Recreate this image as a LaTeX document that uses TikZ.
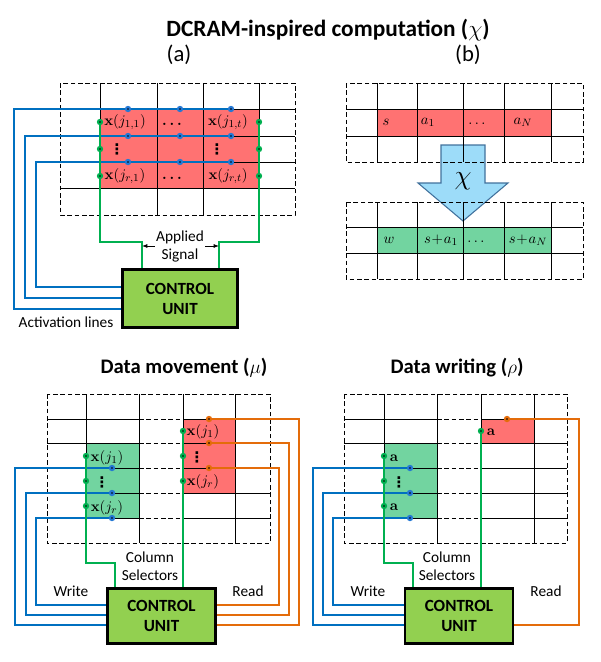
\documentclass[tikz,border=0pt]{standalone}
\usepackage[no-math]{fontspec}
\setmainfont{Carlito}
\newfontfamily\dotsfont{DejaVu Sans}
\usepackage{amsmath,amssymb}
\usepackage{tikz}
\usetikzlibrary{calc,arrows.meta}
\tikzset{>=latex}
\pgfdeclarelayer{back}
\pgfdeclarelayer{wire}
\pgfsetlayers{back,wire,main}
\definecolor{cellred}{HTML}{FF7272}
\definecolor{cellgreen}{HTML}{72D4A0}
\definecolor{ctrlgreen}{HTML}{92D050}
\definecolor{wireblue}{HTML}{0070C0}
\definecolor{dotblue}{HTML}{2478D4}
\definecolor{wiregreen}{HTML}{00B050}
\definecolor{wireorange}{HTML}{E46C0A}
\definecolor{chifill}{HTML}{9DDCF9}
\definecolor{chiline}{HTML}{41719C}
\newcommand{\xj}[1]{\mathbf{x}(j_{#1})}
\newcommand{\vdt}{{\dotsfont\bfseries ⋮}}
\tikzset{
  cellline/.style={line width=0.75pt},
  dashbox/.style={line width=0.75pt, dash pattern=on 3.5pt off 2pt},
  midline/.style={line width=0.75pt, dash pattern=on 3.5pt off 2pt},
  ctrl/.style={draw, line width=1.8pt, fill=ctrlgreen, align=center, inner sep=0pt,
    font=\fontsize{12.8}{15}\selectfont\bfseries},
  lbl/.style={font=\fontsize{11.5}{13.5}\selectfont, inner sep=1pt, align=center},
  head/.style={font=\fontsize{15.5}{18}\selectfont\bfseries},
  mtext/.style={font=\fontsize{11}{13}\selectfont, inner sep=0pt},
  vtext/.style={font=\fontsize{11}{13}\selectfont, inner sep=0pt},
  wdot/.style={circle, fill=#1, inner sep=0pt, minimum size=4.8pt,
    path picture={\fill[black] (path picture bounding box.center) circle (0.6pt);}},
  bdot/.style={wdot=dotblue},
  gdot/.style={wdot=wiregreen},
  odot/.style={wdot=wireorange},
  bluewire/.style={draw=wireblue, line width=0.9pt},
  greenwire/.style={draw=wiregreen, line width=0.9pt},
  orangewire/.style={draw=wireorange, line width=0.9pt},
  chiarrow/.style={fill=chifill, draw=chiline, line width=0.8pt, line join=miter}
}
\begin{document}
\begin{tikzpicture}[x=0.75pt, y=-0.75pt]
\useasboundingbox (0,0) rectangle (601,662);

\node[font=\fontsize{17.5}{20}\selectfont\bfseries] (title) at (328,30) {DCRAM-inspired computation ($\chi$)};
\node[font=\fontsize{17}{19}\selectfont] (a-lbl) at (179,55) {(a)};
\node[font=\fontsize{17}{19}\selectfont] (b-lbl) at (468,55) {(b)};

% (a)
\begin{pgfonlayer}{back}
\fill[cellred] (100,109) rectangle (259,188);
\draw[dashbox] (60,83) rectangle (295,215);
\foreach \x in {100,157,203,259} \draw[cellline] (\x,83) -- (\x,215);
\foreach \y in {109,136,162,188} \draw[cellline] (60,\y) -- (295,\y);
\end{pgfonlayer}
\node[mtext] (a-x11) at (125,122) {$\xj{1,1}$};
\node[mtext] (a-d1) at (172,124) {$\boldsymbol{\ldots}$};
\node[mtext] (a-x1t) at (228,122) {$\xj{1,t}$};
\node[vtext] (a-v1) at (117,149) {\vdt};
\node[vtext] (a-v2) at (217,149) {\vdt};
\node[mtext] (a-xr1) at (125,176) {$\xj{r,1}$};
\node[mtext] (a-d2) at (172,178) {$\boldsymbol{\ldots}$};
\node[mtext] (a-xrt) at (228,176) {$\xj{r,t}$};
\foreach \y [count=\i] in {109,136,162}
  \foreach \x [count=\j] in {128,180,231}
    \node[bdot] (a-b\i\j) at (\x,\y) {};
\foreach \y [count=\i] in {122,149,176} {
  \node[gdot] (a-gl\i) at (100,\y) {};
  \node[gdot] (a-gr\i) at (259,\y) {};
}
\node[ctrl, minimum width=86.25pt, minimum height=43.5pt] (cua) at (180,298.5) {CONTROL\\UNIT};
\node[lbl] (a-sig) at (180,246) {Applied\\Signal};
\node[lbl] (a-act) at (66,322) {Activation lines};
\begin{pgfonlayer}{wire}
\foreach \i/\xx/\yy in {1/14/309,2/25/298,3/36/287} {
  \coordinate (a-k\i) at (\xx,\yy);
  \draw[bluewire] (a-b\i3.center) -| (a-k\i) -- (a-k\i -| cua.west);
}
\coordinate (a-sl) at (142,242);
\coordinate (a-sr) at (219,242);
\draw[greenwire] (a-gl1.center) |- (a-sl) -- (a-sl |- cua.north);
\draw[greenwire] (a-gr1.center) |- (a-sr) -- (a-sr |- cua.north);
\end{pgfonlayer}
\draw[-{Latex[length=4pt,width=3pt]}, line width=0.6pt] (a-sig.west) -- (a-sig.west -| a-sl);
\draw[-{Latex[length=4pt,width=3pt]}, line width=0.6pt] (a-sig.east) -- (a-sig.east -| a-sr);

% (b)
\begin{pgfonlayer}{back}
\draw[chiarrow] (441,145) -- (485,145) -- (485,183) -- (508,183) -- (463,221) -- (418,183) -- (441,183) -- cycle;
\fill[cellred] (377,109) rectangle (551,136);
\draw[dashbox] (346,83) rectangle (583,162);
\foreach \x in {377,417,463,504,551} \draw[cellline] (\x,83) -- (\x,162);
\foreach \y in {109,136} \draw[cellline] (346,\y) -- (583,\y);
\fill[cellgreen] (377,227) rectangle (551,253);
\draw[dashbox] (346,202) rectangle (583,279);
\foreach \x in {377,417,463,504,551} \draw[cellline] (\x,202) -- (\x,279);
\foreach \y in {227,253} \draw[cellline] (346,\y) -- (583,\y);
\end{pgfonlayer}
\node[font=\fontsize{20}{22}\selectfont, inner sep=0pt] (b-chi) at (463,181) {$\chi$};
\node[mtext] (b-s) at (386,122) {$s$};
\node[mtext] (b-a1) at (428,122) {$a_1$};
\node[mtext] (b-d1) at (477,124) {$\ldots$};
\node[mtext] (b-aN) at (523,122) {$a_N$};
\node[mtext] (b-w) at (389,240) {$w$};
\node[mtext] (b-sa1) at (441,240) {$s\!+\!a_1$};
\node[mtext] (b-d2) at (476,242) {$\ldots$};
\node[mtext] (b-saN) at (528,240) {$s\!+\!a_N$};

% (c)
\node[head] (c-title) at (184,368) {Data movement ($\mu$)};
\begin{pgfonlayer}{back}
\fill[cellgreen] (86,443) rectangle (139,518);
\fill[cellred] (183,419) rectangle (235,493);
\draw[dashbox] (47,394) rectangle (270,543);
\foreach \x in {86,139,183,235} \draw[cellline] (\x,394) -- (\x,543);
\foreach \y in {419,443,468,493,518} {
  \draw[cellline] (47,\y) -- (139,\y);
  \draw[midline] (139,\y) -- (183,\y);
  \draw[cellline] (183,\y) -- (270,\y);
}
\end{pgfonlayer}
\node[mtext] (c-x1) at (107,458) {$\xj{1}$};
\node[vtext] (c-v1) at (102,482) {\vdt};
\node[mtext] (c-xr) at (107,508) {$\xj{r}$};
\node[mtext] (c-y1) at (203,432) {$\xj{1}$};
\node[vtext] (c-v2) at (197,457) {\vdt};
\node[mtext] (c-yr) at (203,482) {$\xj{r}$};
\foreach \y [count=\i] in {456,481,506} \node[gdot] (c-g\i) at (86,\y) {};
\foreach \y [count=\i] in {468,493,518} \node[bdot] (c-b\i) at (112,\y) {};
\foreach \y [count=\i] in {431,456,481} \node[gdot] (c-h\i) at (183,\y) {};
\foreach \y [count=\i] in {419,443,468} \node[odot] (c-o\i) at (209,\y) {};
\node[ctrl, minimum width=81pt, minimum height=41.25pt] (cuc) at (161.5,616) {CONTROL\\UNIT};
\node[lbl] (c-col) at (150,566) {Column\\Selectors};
\node[lbl] (c-wr) at (71,591) {Write};
\node[lbl] (c-rd) at (248,591) {Read};
\begin{pgfonlayer}{wire}
\foreach \i/\xx/\yy in {1/15/625,2/26/615,3/36/605} {
  \coordinate (c-k\i) at (\xx,\yy);
  \draw[bluewire] (c-b\i.center) -| (c-k\i) -- (c-k\i -| cuc.west);
}
\foreach \i/\xx/\yy in {1/299/625,2/289/615,3/279/605} {
  \coordinate (c-m\i) at (\xx,\yy);
  \draw[orangewire] (c-o\i.center) -| (c-m\i) -- (c-m\i -| cuc.east);
}
\coordinate (c-s) at (115,563);
\draw[greenwire] (c-g1.center) |- (c-s) -- (c-s |- cuc.north);
\draw[greenwire] (c-h1.center) -- (c-h1 |- cuc.north);
\end{pgfonlayer}

% (d)
\node[head] (d-title) at (457,368) {Data writing ($\rho$)};
\begin{pgfonlayer}{back}
\fill[cellgreen] (384,443) rectangle (437,518);
\fill[cellred] (481,419) rectangle (534,443);
\draw[dashbox] (344,394) rectangle (567,543);
\foreach \x in {384,437,481,534} \draw[cellline] (\x,394) -- (\x,543);
\foreach \y in {419,443,468,493,518} {
  \draw[cellline] (344,\y) -- (437,\y);
  \draw[midline] (437,\y) -- (481,\y);
  \draw[cellline] (481,\y) -- (567,\y);
}
\end{pgfonlayer}
\node[mtext] (d-a1) at (394,458) {$\mathbf{a}$};
\node[vtext] (d-v1) at (399,482) {\vdt};
\node[mtext] (d-ar) at (394,507) {$\mathbf{a}$};
\node[mtext] (d-an) at (491,432) {$\mathbf{a}$};
\foreach \y [count=\i] in {456,481,506} \node[gdot] (d-g\i) at (384,\y) {};
\foreach \y [count=\i] in {468,493,518} \node[bdot] (d-b\i) at (410,\y) {};
\node[gdot] (d-h1) at (481,431) {};
\node[odot] (d-o1) at (507,419) {};
\node[ctrl, minimum width=81pt, minimum height=41.25pt] (cud) at (459,616) {CONTROL\\UNIT};
\node[lbl] (d-col) at (447,566) {Column\\Selectors};
\node[lbl] (d-wr) at (368,591) {Write};
\node[lbl] (d-rd) at (546,591) {Read};
\begin{pgfonlayer}{wire}
\foreach \i/\xx/\yy in {1/313/625,2/323/615,3/333/605} {
  \coordinate (d-k\i) at (\xx,\yy);
  \draw[bluewire] (d-b\i.center) -| (d-k\i) -- (d-k\i -| cud.west);
}
\coordinate (d-m1) at (579,625);
\draw[orangewire] (d-o1.center) -| (d-m1) -- (d-m1 -| cud.east);
\coordinate (d-s) at (413,563);
\draw[greenwire] (d-g1.center) |- (d-s) -- (d-s |- cud.north);
\draw[greenwire] (d-h1.center) -- (d-h1 |- cud.north);
\end{pgfonlayer}
\end{tikzpicture}
\end{document}
